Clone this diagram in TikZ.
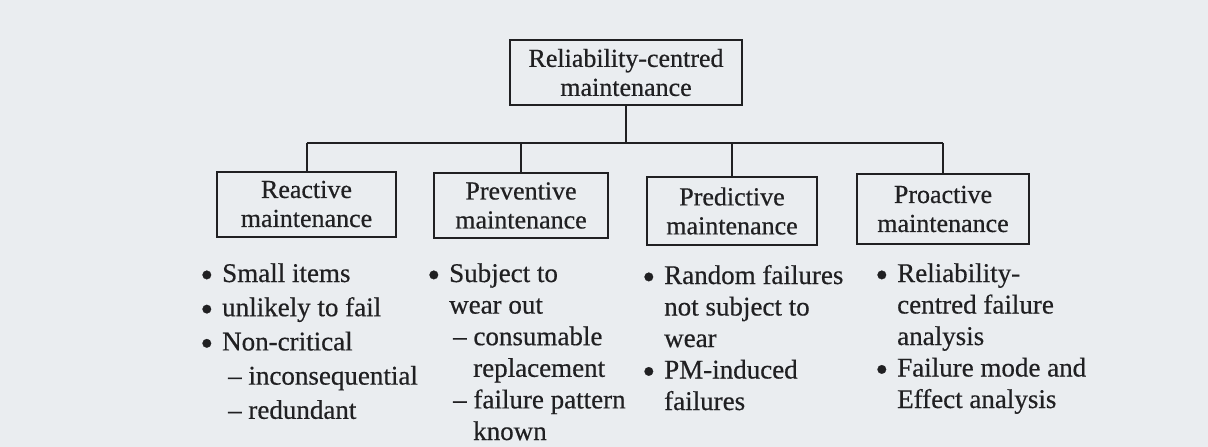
\documentclass[tikz,border=0pt]{standalone}
\usepackage{fontspec}
\setmainfont{Liberation Serif}[BoldFont={Liberation Serif}, BoldFeatures={FakeBold=0.5}]
\definecolor{paper}{RGB}{234,237,240}
\definecolor{ink}{RGB}{32,32,34}
% bullet hung to the left of the item text
\newcommand\blt{\leavevmode\llap{\raisebox{-5pt}{\scalebox{1.35}{\textbullet}}\hspace{9pt}}}
\begin{document}
\begin{tikzpicture}[x=1pt,y=-1pt,
  box/.style={draw=ink, line width=2pt, fill=paper, align=center, inner sep=0pt,
    text=ink, font=\fontsize{26}{29}\selectfont\bfseries},
  link/.style={draw=ink, line width=2pt},
  listing/.style={anchor=base west, inner sep=0pt, text=ink}]
  % page
  \useasboundingbox (0,0) rectangle (1208,447);
  \path[fill=paper] (0,0) rectangle (1208,447);
  \clip (0,0) rectangle (1208,447);

  % top of the tree
  \node[box, minimum width=232pt, minimum height=65pt] (root) at (626,72.5)
    {Reliability-centred\\maintenance};

  % the four kinds of maintenance
  \node[box, minimum width=179pt, minimum height=65pt] (react) at (306.5,204)
    {Reactive\\maintenance};
  \node[box, minimum width=174pt, minimum height=65pt] (prev) at (521,205.5)
    {Preventive\\maintenance};
  \node[box, minimum width=170pt, minimum height=68pt] (pred) at (732,211)
    {Predictive\\maintenance};
  \node[box, minimum width=172pt, minimum height=70pt] (proact) at (943,209)
    {Proactive\\maintenance};

  % connectors
  \coordinate (bus) at (626,143);
  \draw[link] (root.south) -- (bus);
  \draw[link] (bus -| react.north) -- (bus -| proact.north);
  \draw[link] (bus -| react.north) -- (react.north);
  \draw[link] (bus -| prev.north) -- (prev.north);
  \draw[link] (bus -| pred.north) -- (pred.north);
  \draw[link] (bus -| proact.north) -- (proact.north);

  % characteristics under each box
  \node[listing] (reactlist) at (222,282) {\parbox[t]{220pt}{%
    \fontsize{27}{34.2}\selectfont\bfseries\parindent=0pt
    \blt Small items\par
    \blt unlikely to fail\par
    \blt Non-critical\par
    \hspace*{6pt}– inconsequential\par
    \hspace*{6pt}– redundant}};
  \node[listing] (prevlist) at (449,282) {\parbox[t]{220pt}{%
    \fontsize{27}{31.6}\selectfont\bfseries\parindent=0pt
    \blt Subject to\par
    wear out\par
    \hspace*{4pt}– consumable\par
    \hspace*{24pt}replacement\par
    \hspace*{4pt}– failure pattern\par
    \hspace*{24pt}known}};
  \node[listing] (predlist) at (664,284) {\parbox[t]{220pt}{%
    \fontsize{27}{31.5}\selectfont\bfseries\parindent=0pt
    \blt Random failures\par
    not subject to\par
    wear\par
    \blt PM-induced\par
    failures}};
  \node[listing] (proactlist) at (897,282) {\parbox[t]{220pt}{%
    \fontsize{27}{31.5}\selectfont\bfseries\parindent=0pt
    \blt Reliability-\par
    centred failure\par
    analysis\par
    \blt Failure mode and\par
    Effect analysis}};
\end{tikzpicture}
\end{document}
